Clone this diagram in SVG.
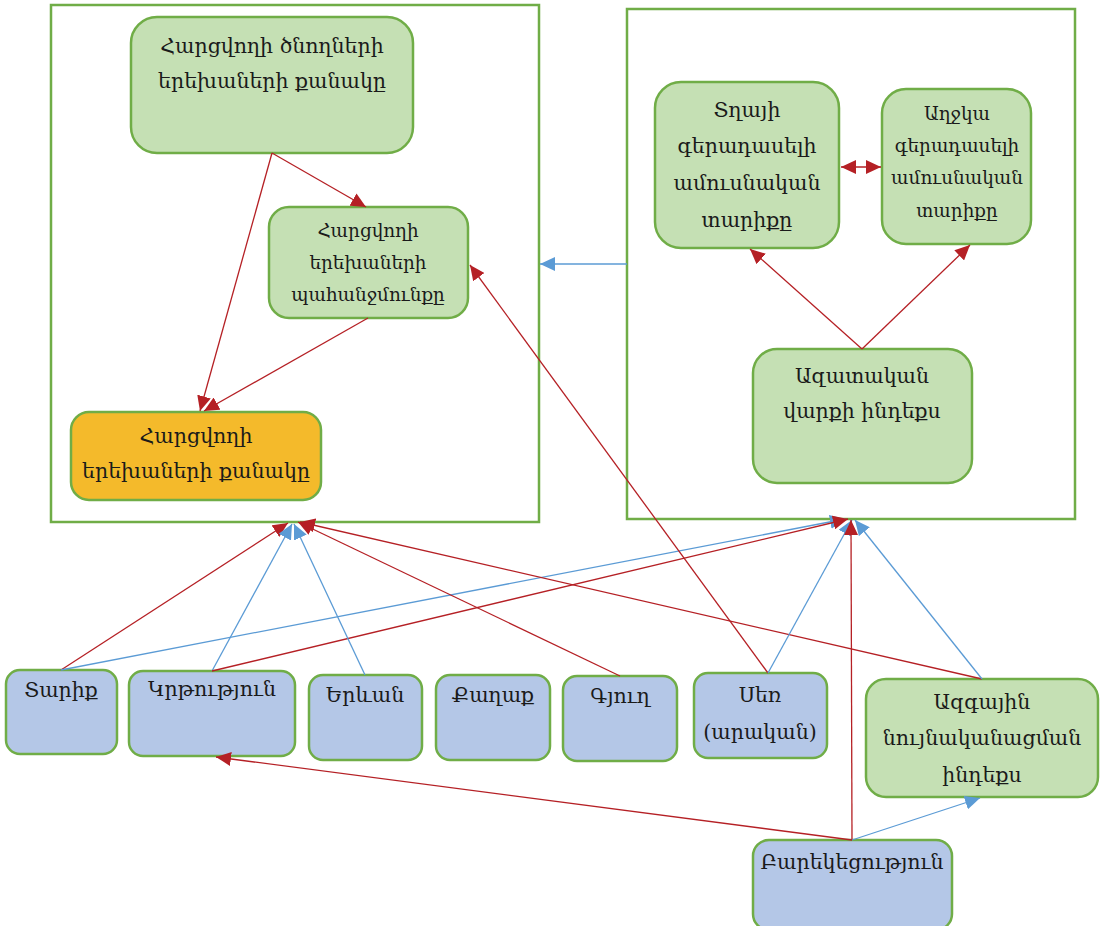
<svg xmlns="http://www.w3.org/2000/svg" width="1103" height="926" viewBox="0 0 1103 926">
<defs>
<marker id="ar" markerUnits="userSpaceOnUse" markerWidth="16" markerHeight="14" refX="15" refY="7" orient="auto-start-reverse"><path d="M0,0 L15,7 L0,14 z" fill="#B52025"/></marker>
<marker id="ab" markerUnits="userSpaceOnUse" markerWidth="16" markerHeight="14" refX="15" refY="7" orient="auto"><path d="M0,0 L15,7 L0,14 z" fill="#5B9BD5"/></marker>
<style>
.cont{fill:none;stroke:#70AD47;stroke-width:2.5}
.g{fill:#C5E0B4;stroke:#70AD47;stroke-width:2.5}
.o{fill:#F4BA2B;stroke:#70AD47;stroke-width:2.5}
.b{fill:#B4C7E7;stroke:#70AD47;stroke-width:2.5}
text{font-family:"DejaVu Serif","Liberation Serif",serif;fill:#1a1a1a;text-anchor:middle}
.t20{font-size:20.5px}
.t18{font-size:18.4px}
.r{stroke:#B52025;stroke-width:1.3;fill:none;marker-end:url(#ar)}
.bl{stroke:#5B9BD5;stroke-width:1.3;fill:none;marker-end:url(#ab)}
</style>
</defs>
<g id="containers">
<rect class="cont" x="51" y="5" width="488" height="517"/>
<rect class="cont" x="627" y="9" width="448" height="510"/>
</g>
<g id="n-parents"><rect class="g" x="131" y="17" width="282" height="136" rx="26"/>
<text class="t20" x="272" y="53">Հարցվողի ծնողների</text><text class="t20" x="272" y="88">երեխաների քանակը</text></g>
<g id="n-need"><rect class="g" x="269" y="207" width="199" height="111" rx="20"/>
<text class="t18" x="368" y="237">Հարցվողի</text><text class="t18" x="368" y="269">երեխաների</text><text class="t18" x="368" y="301">պահանջմունքը</text></g>
<g id="n-count"><rect class="o" x="71" y="412" width="250" height="88" rx="18"/>
<text class="t20" x="196" y="443">Հարցվողի</text><text class="t20" x="196" y="478">երեխաների քանակը</text></g>
<g id="n-boy"><rect class="g" x="655" y="82" width="184" height="166" rx="26"/>
<text class="t20" x="747" y="117">Տղայի</text><text class="t20" x="747" y="153">գերադասելի</text><text class="t20" x="747" y="190">ամուսնական</text><text class="t20" x="747" y="227">տարիքը</text></g>
<g id="n-girl"><rect class="g" x="882" y="89" width="149" height="155" rx="24"/>
<text class="t18" x="957" y="120">Աղջկա</text><text class="t18" x="957" y="152">գերադասելի</text><text class="t18" x="957" y="184">ամուսնական</text><text class="t18" x="957" y="217">տարիքը</text></g>
<g id="n-liberal"><rect class="g" x="753" y="349" width="219" height="134" rx="24"/>
<text class="t20" x="862" y="383">Ազատական</text><text class="t20" x="862" y="418">վարքի ինդեքս</text></g>
<g id="n-age"><rect class="b" x="6" y="670" width="111" height="84" rx="14"/><text class="t20" x="61" y="697">Տարիք</text></g>
<g id="n-edu"><rect class="b" x="129" y="671" width="166" height="85" rx="14"/><text class="t20" x="212" y="696">Կրթություն</text></g>
<g id="n-yerevan"><rect class="b" x="309" y="675" width="113" height="85" rx="14"/><text class="t20" x="365" y="702">Երևան</text></g>
<g id="n-city"><rect class="b" x="436" y="675" width="114" height="85" rx="14"/><text class="t20" x="493" y="702">Քաղաք</text></g>
<g id="n-village"><rect class="b" x="563" y="676" width="114" height="85" rx="14"/><text class="t20" x="620" y="703">Գյուղ</text></g>
<g id="n-sex"><rect class="b" x="694" y="673" width="133" height="85" rx="14"/><text class="t20" x="760" y="702">Սեռ</text><text class="t20" x="760" y="739">(արական)</text></g>
<g id="n-national"><rect class="g" x="866" y="679" width="232" height="118" rx="20"/>
<text class="t20" x="982" y="709">Ազգային</text><text class="t20" x="982" y="745">նույնականացման</text><text class="t20" x="982" y="782">ինդեքս</text></g>
<g id="n-welfare"><rect class="b" x="753" y="840" width="199" height="90" rx="16"/><text class="t20" x="852" y="869">Բարեկեցություն</text></g>
<g id="connectors">
<line class="r" x1="272" y1="153" x2="366" y2="207"/>
<line class="r" x1="272" y1="153" x2="200" y2="411"/>
<line class="r" x1="368" y1="318" x2="204" y2="411"/>
<line class="bl" x1="627" y1="264" x2="540" y2="264"/>
<line class="r" x1="862" y1="349" x2="750" y2="249"/>
<line class="r" x1="862" y1="349" x2="970" y2="245"/>
<line x1="841" y1="167" x2="881" y2="167" stroke="#B52025" stroke-width="1.3" marker-start="url(#ar)" marker-end="url(#ar)"/>
<line class="r" x1="61" y1="670" x2="288" y2="523"/>
<line class="bl" x1="61" y1="670" x2="845" y2="519"/>
<line class="bl" x1="212" y1="671" x2="292" y2="524"/>
<line class="r" x1="212" y1="671" x2="848" y2="519"/>
<line class="bl" x1="365" y1="675" x2="294" y2="524"/>
<line class="r" x1="620" y1="676" x2="298" y2="522"/>
<line class="r" x1="982" y1="679" x2="300" y2="522"/>
<line class="bl" x1="982" y1="679" x2="855" y2="520"/>
<line class="r" x1="768" y1="673" x2="470" y2="265"/>
<line class="bl" x1="768" y1="673" x2="852" y2="520"/>
<line class="r" x1="852" y1="840" x2="851" y2="520"/>
<line class="r" x1="852" y1="840" x2="216" y2="757"/>
<line class="bl" x1="852" y1="840" x2="980" y2="798"/>
</g>
</svg>
